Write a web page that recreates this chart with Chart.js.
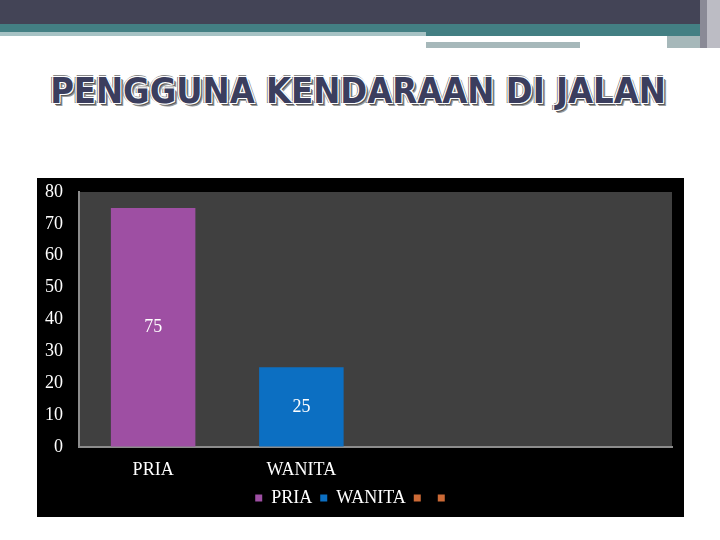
<!DOCTYPE html>
<html>
<head>
<meta charset="utf-8">
<script src="https://cdn.jsdelivr.net/npm/chart.js@4"></script>
<style>
  body { margin: 0; width: 720px; height: 540px; background: #fff; position: relative; overflow: hidden; }
  .hd { position: absolute; }
  #judul {
    position: absolute; left: 0; width: 720px; top: 70px; text-align: center;
    font-family: "DejaVu Sans Condensed", "DejaVu Sans", sans-serif; font-weight: bold;
    font-size: 36px; color: #3b3e5e; padding-right: 4px; box-sizing: border-box;
    text-shadow: -1px -1px 0 #fff, 1px -1px 0 #fff, -1px 1px 0 #fff, 1px 1px 0 #fff,
                 2px 2px 0 #5a5a5a, 3px 3px 0 #9a9a9a, -2px 0 0 #777, 0 -2px 0 #888;
  }
  #kotak { position: absolute; left: 37px; top: 178px; width: 647px; height: 339px; background: #000; }
</style>
</head>
<body>
<!-- header slide -->
<div class="hd" style="left:0;top:0;width:700px;height:24px;background:#434456"></div>
<div class="hd" style="left:0;top:24px;width:700px;height:8px;background:#437f83"></div>
<div class="hd" style="left:0;top:32px;width:426px;height:4px;background:#a6c2c4"></div>
<div class="hd" style="left:426px;top:32px;width:274px;height:4px;background:#437f83"></div>
<div class="hd" style="left:426px;top:42px;width:154px;height:6px;background:#a6b8ba"></div>
<div class="hd" style="left:667px;top:36px;width:40px;height:12px;background:#a6b8ba"></div>
<div class="hd" style="left:700px;top:0;width:7px;height:48px;background:#8a8a96"></div>
<div class="hd" style="left:707px;top:0;width:13px;height:48px;background:#bcbcc4"></div>

<div id="judul">PENGGUNA KENDARAAN DI JALAN</div>

<div id="kotak"><canvas id="myChart"></canvas></div>

<script>
// kategori & data
var kategori = ['PRIA', 'WANITA', '', ''];
var nilai = [75, 25, null, null];
var warna = ['#9e4fa3', '#0c6fc2', '#cc6a36', '#cc6a36'];
var tickY = [0, 10, 20, 30, 40, 50, 60, 70, 80];

var hurufSerif = '"Liberation Serif", "DejaVu Serif", serif';

// latar abu-abu di area plot
var latarPlot = {
    id: 'latarPlot',
    beforeDraw: function (chart) {
        var a = chart.chartArea;
        var ctx = chart.ctx;
        ctx.save();
        ctx.fillStyle = '#404040';
        ctx.fillRect(a.left, a.top, a.right - a.left, a.bottom - a.top);
        ctx.restore();
    }
};

// label nilai di tengah batang
var labelNilai = {
    id: 'labelNilai',
    afterDatasetsDraw: function (chart) {
        var ctx = chart.ctx;
        var meta = chart.getDatasetMeta(0);
        ctx.save();
        ctx.fillStyle = '#ffffff';
        ctx.font = '18px ' + hurufSerif;
        ctx.textAlign = 'center';
        ctx.textBaseline = 'middle';
        meta.data.forEach(function (bar, i) {
            if (nilai[i] == null) return;
            ctx.fillText(String(nilai[i]), bar.x, (bar.y + bar.base) / 2);
        });
        ctx.restore();
    }
};

var bieudo = new Chart('myChart', {
    type: 'bar',
    data: {
        labels: kategori,
        datasets: [{
            label: 'Series 1',
            data: nilai,
            backgroundColor: warna,
            borderWidth: 0,
            categoryPercentage: 1,
            barPercentage: 0.57
        }]
    },
    options: {
        responsive: true,
        maintainAspectRatio: false,
        animation: false,
        layout: { padding: { top: 14, right: 12, left: 0, bottom: 0 } },
        plugins: {
            title: { display: false },
            tooltip: { enabled: false },
            legend: {
                position: 'bottom',
                labels: {
                    color: '#ffffff',
                    font: { family: hurufSerif, size: 18 },
                    boxWidth: 7,
                    boxHeight: 7,
                    padding: 8,
                    generateLabels: function () {
                        return kategori.map(function (k, i) {
                            return { text: k, fillStyle: warna[i], strokeStyle: warna[i], fontColor: '#ffffff', lineWidth: 0, hidden: false, index: i };
                        });
                    }
                }
            }
        },
        scales: {
            x: {
                grid: { drawOnChartArea: false, drawTicks: false },
                border: { display: true, color: '#8c8c8c', width: 2 },
                ticks: { color: '#ffffff', font: { family: hurufSerif, size: 18 }, padding: 12 },
                afterFit: function (s) { s.height = 34; }
            },
            y: {
                min: 0,
                max: 80,
                grid: { drawOnChartArea: false, drawTicks: true, tickLength: 16, tickColor: 'rgba(0,0,0,0)' },
                border: { display: true, color: '#8c8c8c', width: 2 },
                afterBuildTicks: function (s) { s.ticks = tickY.map(function (v) { return { value: v }; }); },
                ticks: { color: '#ffffff', font: { family: hurufSerif, size: 18 }, padding: 0 },
                afterFit: function (s) { s.width = 42; }
            }
        }
    },
    plugins: [latarPlot, labelNilai]
});
</script>
</body>
</html>
